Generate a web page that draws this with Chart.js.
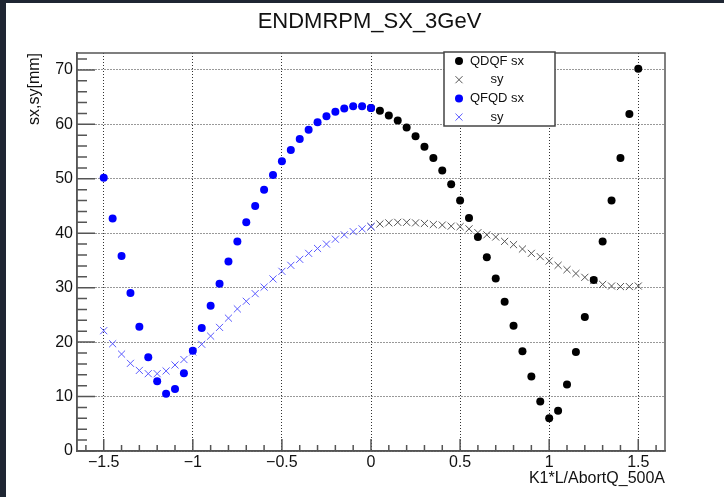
<!DOCTYPE html>
<html>
<head>
<meta charset="utf-8">
<script src="https://cdn.jsdelivr.net/npm/chart.js@4/dist/chart.umd.min.js"></script>
<style>
  body { margin: 0; background: #fff; }
  canvas { display: block; }
</style>
</head>
<body>
<canvas id="c" width="724" height="497"></canvas>
<script>
// K1*L/AbortQ_500A scan, QFQD on the negative side, QDQF on the positive side
const qfqdK = [-1.5, -1.45, -1.4, -1.35, -1.3, -1.25, -1.2, -1.15, -1.1, -1.05, -1.0,
  -0.95, -0.9, -0.85, -0.8, -0.75, -0.7, -0.65, -0.6, -0.55, -0.5,
  -0.45, -0.4, -0.35, -0.3, -0.25, -0.2, -0.15, -0.1, -0.05, 0];
const qfqdSx = [50.2, 42.7, 35.8, 29.0, 22.8, 17.2, 12.8, 10.5, 11.4, 14.3, 18.4,
  22.6, 26.7, 30.7, 34.8, 38.5, 42.0, 45.0, 48.0, 50.7, 53.2,
  55.3, 57.3, 59.0, 60.4, 61.5, 62.3, 62.9, 63.3, 63.3, 63.0];
const qfqdSy = [22.1, 19.7, 17.8, 16.1, 14.8, 14.2, 14.2, 14.7, 15.8, 16.8, 18.2,
  19.6, 21.1, 22.7, 24.4, 26.1, 27.5, 28.9, 30.1, 31.6, 33.0,
  34.1, 35.2, 36.3, 37.2, 38.0, 38.9, 39.7, 40.3, 40.8, 41.2];

const qdqfK = [0, 0.05, 0.1, 0.15, 0.2, 0.25, 0.3, 0.35, 0.4, 0.45, 0.5,
  0.55, 0.6, 0.65, 0.7, 0.75, 0.8, 0.85, 0.9, 0.95, 1.0,
  1.05, 1.1, 1.15, 1.2, 1.25, 1.3, 1.35, 1.4, 1.45, 1.5];
const qdqfSx = [63.0, 62.5, 61.6, 60.7, 59.4, 57.8, 55.9, 53.8, 51.5, 49.0, 46.0,
  42.8, 39.3, 35.6, 31.7, 27.4, 23.0, 18.3, 13.7, 9.1, 6.0,
  7.4, 12.2, 18.2, 24.6, 31.4, 38.5, 46.0, 53.8, 61.9, 70.2];
const qdqfSy = [41.2, 41.7, 41.9, 42.0, 42.0, 41.9, 41.8, 41.6, 41.5, 41.3, 41.2,
  40.8, 40.1, 39.7, 39.3, 38.5, 37.9, 37.1, 36.3, 35.7, 34.9,
  34.1, 33.3, 32.6, 31.9, 31.3, 30.6, 30.3, 30.2, 30.2, 30.3];

const legendLabels = ["QDQF sx", "sy", "QFQD sx", "sy"];

const FONT = "'Liberation Sans', Arial, sans-serif";
Chart.defaults.font.family = FONT;

const pts = (xs, ys) => xs.map((x, i) => ({ x, y: ys[i] }));

function dotSet(label, xs, ys, color, order) {
  return { label, data: pts(xs, ys), pointStyle: "circle", pointRadius: 4, pointBackgroundColor: color, pointBorderColor: color, pointBorderWidth: 0, order };
}
function crossSet(label, xs, ys, color, order) {
  return { label, data: pts(xs, ys), pointStyle: "crossRot", pointRadius: 5, pointBorderColor: color, pointBorderWidth: 1, order };
}

// frame, inner ticks (ROOT style), dark window edge, title and legend
const rootFrame = {
  id: "rootFrame",
  beforeDraw(chart) {
    const { ctx, width, height } = chart;
    ctx.save();
    ctx.fillStyle = "#fff";
    ctx.fillRect(0, 0, width, height);
    ctx.fillStyle = "#1f2633";
    ctx.fillRect(0, 0, width, 3);
    ctx.fillRect(0, 0, 6, height);
    ctx.restore();
  },
  beforeDatasetsDraw(chart) {
    const { ctx, chartArea: a, scales: { x, y } } = chart;
    ctx.save();
    ctx.strokeStyle = "#555";
    ctx.lineWidth = 1.5;
    ctx.beginPath();
    for (let i = -16; i <= 16; i++) {
      const px = x.getPixelForValue(i / 10);
      const len = i % 5 === 0 ? 12 : 6;
      ctx.moveTo(px, a.bottom);
      ctx.lineTo(px, a.bottom - len);
    }
    for (let j = 0; j <= 36; j++) {
      const py = y.getPixelForValue(j * 2);
      const len = j % 5 === 0 ? 18 : 10;
      ctx.moveTo(a.left, py);
      ctx.lineTo(a.left + len, py);
    }
    ctx.stroke();
    ctx.strokeRect(a.left, a.top, a.right - a.left, a.bottom - a.top);
    ctx.restore();
  },
  afterDraw(chart) {
    const { ctx } = chart;
    ctx.save();
    ctx.fillStyle = "#111";
    ctx.font = "22px " + FONT;
    ctx.textAlign = "center";
    ctx.textBaseline = "alphabetic";
    ctx.fillText("ENDMRPM_SX_3GeV", 369.5, 28);

    // legend box
    const bx = 444, by = 52, bw = 111, bh = 74;
    ctx.fillStyle = "#fff";
    ctx.fillRect(bx, by, bw, bh);
    ctx.strokeStyle = "#444";
    ctx.lineWidth = 1.5;
    ctx.strokeRect(bx, by, bw, bh);
    ctx.font = "13px " + FONT;
    ctx.textAlign = "center";
    ctx.textBaseline = "middle";
    chart.data.datasets.forEach((ds, i) => {
      const cy = by + 9 + i * 18.7;
      ctx.fillStyle = ds.pointBorderColor;
      ctx.strokeStyle = ds.pointBorderColor;
      if (ds.pointStyle === "circle") {
        ctx.beginPath();
        ctx.arc(459, cy, 4, 0, Math.PI * 2);
        ctx.fill();
      } else {
        ctx.lineWidth = 1;
        Chart.helpers.drawPoint(ctx, { pointStyle: "crossRot", radius: 5, borderWidth: 1 }, 459, cy);
      }
      ctx.fillStyle = "#111";
      ctx.fillText(legendLabels[i], 497, cy);
    });
    ctx.restore();
  }
};

const minus = v => (v < 0 ? "\u2212" : "") + Math.abs(v);

new Chart(document.getElementById("c"), {
  type: "scatter",
  data: {
    datasets: [
      dotSet("QDQF sx", qdqfK, qdqfSx, "#000", 1),
      crossSet("QDQF sy", qdqfK, qdqfSy, "#555", 1),
      dotSet("QFQD sx", qfqdK, qfqdSx, "#0000ff", 0),
      crossSet("QFQD sy", qfqdK, qfqdSy, "#5c5cff", 0),
    ],
  },
  options: {
    responsive: false,
    animation: false,
    events: [],
    layout: { padding: { top: 53, right: 59, left: 0, bottom: 0 } },
    plugins: { legend: { display: false }, tooltip: { enabled: false } },
    scales: {
      x: {
        type: "linear",
        min: -1.65,
        max: 1.65,
        afterFit(s) { s.height = 46; },
        ticks: { stepSize: 0.5, includeBounds: false, autoSkip: false, maxRotation: 0, padding: 2, color: "#111", font: { size: 16 }, callback: minus },
        grid: { color: "#333", lineWidth: 1, drawTicks: false },
        border: { color: "#555", width: 1.5, dash: [1, 2] },
        title: { display: true, text: "K1*L/AbortQ_500A", align: "end", color: "#111", font: { size: 16 }, padding: { top: 0, bottom: 9 } },
      },
      y: {
        min: 0,
        max: 73.1,
        afterFit(s) { s.width = 77; },
        ticks: { stepSize: 10, includeBounds: false, padding: 4, color: "#111", font: { size: 16 } },
        grid: { color: "#333", lineWidth: 1, drawTicks: false },
        border: { color: "#555", width: 1.5, dash: [1, 2] },
        title: { display: true, text: "sx,sy[mm]", align: "end", color: "#111", font: { size: 16 }, padding: { top: 25, bottom: 0 } },
      },
    },
  },
  plugins: [rootFrame],
});
</script>
</body>
</html>
